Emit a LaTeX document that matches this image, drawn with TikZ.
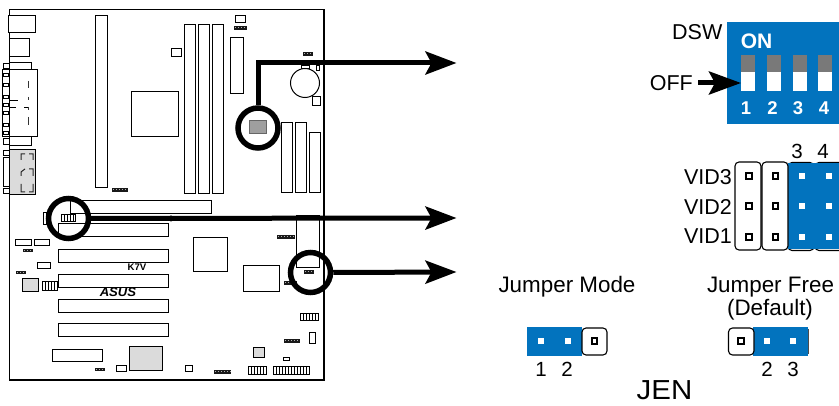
\documentclass[tikz,border=0pt]{standalone}
\usepackage{fontspec}
\setmainfont{Liberation Sans}
\usetikzlibrary{arrows.meta}
\definecolor{jblue}{RGB}{2,115,190}
\newcommand{\bx}[2]{\draw[part] (#1) rectangle (#2);}
\newcommand{\gbx}[2]{\draw[part,fill=gray!28] (#1) rectangle (#2);}
\def\dkx#1,#2;#3,#4;{\fill[black!90] (#1,#2) rectangle (#3,#4);
  \draw[white!70!black,line width=1pt,dash pattern=on 1pt off 2pt] (#1+1,#2/2+#4/2)--(#3-.5,#2/2+#4/2);}
\newcommand{\dk}[2]{\dkx#1;#2;}
\newcommand{\comb}[4]{\draw[part,line width=1pt] (#1,#2) rectangle (#3,#4);
  \pgfmathsetmacro{\st}{#1+3}\foreach \i in {\st,...,#3}{\pgfmathparse{mod(\i-#1,3)==0?1:0}\ifnum\pgfmathresult=1 \draw[line width=1pt] (\i,#2)--(\i,#4);\fi}}
\newcommand{\pinw}[2]{\filldraw[fill=white,draw=black,line width=2pt] (#1-2.6,#2-2.6) rectangle (#1+2.6,#2+2.6);}
\newcommand{\pinb}[2]{\fill[white] (#1-3.2,#2-3.2) rectangle (#1+3.2,#2+3.2);}
\tikzset{x=1pt,y=-1pt,
  part/.style={draw=black,line width=1pt,fill=white},
  ring/.style={draw=black,circle,line width=5.5pt,inner sep=0pt,minimum size=40pt},
  bigarrow/.style={line width=5pt,-{Stealth[length=31pt,width=23pt,inset=6pt]}},
  lab/.style={font=\fontsize{21.5}{22}\selectfont,inner sep=0pt},
  wlab/.style={font=\fontsize{22.4}{23}\selectfont,inner sep=0pt},
  num/.style={font=\fontsize{20.5}{21}\selectfont,inner sep=0pt},
  dswnum/.style={font=\bfseries\fontsize{18.5}{19}\selectfont,text=white,inner sep=0pt},
  jcap/.style={draw=black,line width=1.1pt,fill=white,rounded corners=4pt},
}
\begin{document}
\begin{tikzpicture}
\useasboundingbox (0,0) rectangle (839,406);
% board
\draw[line width=1.1pt] (9.5,9.5) rectangle (324,380);
% left edge connectors
\bx{8.5,15.5}{35.5,32.5}
\bx{9,39}{29.5,57}
\bx{9,62.5}{31,70}
\bx{3,64}{9,69}
\bx{2,70}{9,137}
\bx{9,70}{37,137}
\foreach \y in {74,84,96,104,112,124,132}{\bx{3,\y}{8,\y+3}}
\bx{9,137}{31.5,146}
\bx{3,139}{9,145}
\foreach \a/\b in {81/88,97/100,107/110,117/125}{\draw[line width=1pt,black!80] (28,\a)--(28,\b);}
\draw[line width=.8pt] (10,100.5)--(18,100.5) (10,107)--(16,107) (24,107)--(28,107);
\gbx{9,150}{35,195}
\bx{3,158}{9,187}
\bx{3,151}{9,156}
\bx{3,189}{9,194}
\draw[line width=1pt,black!85] (21,160)--(21,154)--(25,154) (29,154)--(33,154)--(33,160)
 (21,172)--(21,176) (21,172)--(25,169) (29,169)--(33,169)--(33,176)
 (21,184)--(21,192)--(25,192) (29,192)--(33,192)--(33,184);
% upper slots and chips
\bx{95,15.5}{107,188}
\dk{112,188}{128,192}
\bx{131.5,91.5}{178,136.5}
\bx{184,24.5}{195.5,194}
\bx{198,24.5}{209,194}
\bx{212,24.5}{223,194}
\bx{171,48.5}{181,57}
\bx{230,38}{243,94}
\bx{235,15.5}{245,23}
\dk{234,26}{247,30}
\dk{303,52}{313,56}
\bx{301,66}{309,69}
\bx{316,66}{319,71}
\draw[part] (305,83) circle (14.5);
\bx{312,97}{320,106}
\draw[part,fill=gray!75,draw=black!60] (249,121) rectangle (266,134);
\bx{281,122.5}{292,193}
\bx{295,122.5}{306,193}
\bx{309,133}{320,193}
% lower slots
\bx{70,201}{211,214}
\draw[line width=.7pt] (70,201)--(70,215);
\bx{43,213}{46,225}
\foreach \y in {224,250,275,299.5,324}{\bx{58,\y}{168,\y+12.7}}
\comb{61}{215}{75}{222}
\draw[part,line width=.8pt] (15,239.5) rectangle (31,245);
\draw[part,line width=.8pt] (34,239.5) rectangle (49,245);
\draw[white,line width=1pt] (20,245)--(26,245) (39,245)--(45,245);
\dk{23,249}{33,252}
\bx{37,263}{50,269}
\dk{16,271}{26,274}
\gbx{22.5,279}{38,292}
\comb{42}{282}{57}{291}
\node[inner sep=0pt,font=\bfseries\fontsize{9.6}{10}\selectfont] (boardname) at (137,267.5) {K7V};
\node[inner sep=0pt,xscale=1.05,font=\bfseries\itshape\fontsize{12.5}{13}\selectfont] (brand) at (118,292.5) {ASUS};
\bx{52,350}{102,362}
\dk{95,368}{105,371}
\bx{116.5,366}{126,372}
\gbx{129,347}{162,371}
\bx{193,238}{227,272}
\bx{243.5,266}{279,292}
\dk{277,235}{295,239}
\bx{296,216}{319,268}
\dk{304,270}{314,274}
\dk{284,281}{297,285}
\comb{300}{314}{318}{321}
\dk{284,339}{300,343}
\bx{309.5,333}{315,344}
\gbx{253,348}{264,358}
\bx{283,357.5}{289,361}
\bx{185,365.5}{192,372}
\dk{214,370}{231,374}
\comb{248}{367}{266}{375}
\comb{273}{367}{309}{375}
% rings and arrows
\node[ring] (r1) at (258,128) {};
\node[ring] (r2) at (68.5,218.5) {};
\node[ring] (r3) at (310.5,272.5) {};
\coordinate (t1) at (456.5,63);
\coordinate (t2) at (456.5,218);
\coordinate (t3) at (456.5,272);
\draw[bigarrow] (r1.north) -- (258,63) -- (t1);
\draw[bigarrow] (r2.center) ++(21,0) -- (t2);
\draw[bigarrow] (r3.east) -- (t3);
\fill (171,218.5) circle (3);
% DIP switch
\fill[jblue] (727,22) rectangle (839,124);
\node[inner sep=0pt,text=white,font=\bfseries\fontsize{21}{22}\selectfont] (on) at (756.5,41) {ON};
\foreach \x/\n/\c in {741/1/746,767/2/772.5,793/3/798,818/4/824}{
  \fill[gray!95!black] (\x,55) rectangle (\x+14,72);
  \fill[white] (\x,72) rectangle (\x+14,91);
  \node[dswnum] (d\n) at (\c,108) {\n};
}
\node[lab,anchor=east] (dsw) at (722.5,32) {DSW};
\node[lab,anchor=east] (off) at (693,83) {OFF};
\coordinate (offtip) at (741,83);
\draw[line width=5pt,-{Stealth[length=32pt,width=23pt,inset=6pt]}] (off.east) ++(5,0) -- (offtip);
% VID jumpers
\draw[line width=1.1pt,rounded corners=4pt] (788,168)--(788,162.5)--(814,162.5)--(814,168);
\draw[line width=1.1pt,rounded corners=4pt] (815,168)--(815,162.5)--(839,162.5);
\draw[line width=1.1pt,rounded corners=4pt] (788,245)--(788,250.5)--(814,250.5)--(814,245);
\draw[line width=1.1pt,rounded corners=4pt] (815,245)--(815,250.5)--(839,250.5);
\fill[jblue] (788,163) rectangle (839,249.5);
\draw[jcap] (735,162) rectangle (761,250);
\draw[jcap] (762,162) rectangle (788,250);
\foreach \y in {176,206,237}{
  \pinw{749}{\y}\pinw{775.5}{\y}\pinb{802}{\y}\pinb{829}{\y}
}
\node[num] (n3) at (797,151) {3};
\node[num] (n4) at (823,151) {4};
\node[lab,anchor=east] (v3) at (732,177) {VID3};
\node[lab,anchor=east] (v2) at (732,207) {VID2};
\node[lab,anchor=east] (v1) at (732,236) {VID1};
% JEN
\node[wlab] (jm) at (567,287) {Jumper Mode};
\fill[jblue] (527,327) rectangle (582,356);
\draw[jcap] (582,328) rectangle (607,355);
\pinb{541}{341}\pinb{568}{341}\pinw{594.5}{341}
\node[num] (a1) at (541,369) {1};
\node[num] (a2) at (567,369) {2};
\node[wlab] (jf) at (770.5,287) {Jumper Free};
\node[wlab] (df) at (770,310) {(Default)};
\draw[line width=1pt,black!70] (808,329)--(808,354);
\fill[jblue] (753,327) rectangle (808,356);
\draw[jcap] (728.5,328) rectangle (754,355);
\pinw{741}{341}\pinb{767}{341}\pinb{793}{341}
\node[num] (b2) at (767,369) {2};
\node[num] (b3) at (793,369) {3};
\node[inner sep=0pt,xscale=1.07,font=\fontsize{27.5}{28}\selectfont] (jen) at (664.5,390) {JEN};
\end{tikzpicture}
\end{document}
